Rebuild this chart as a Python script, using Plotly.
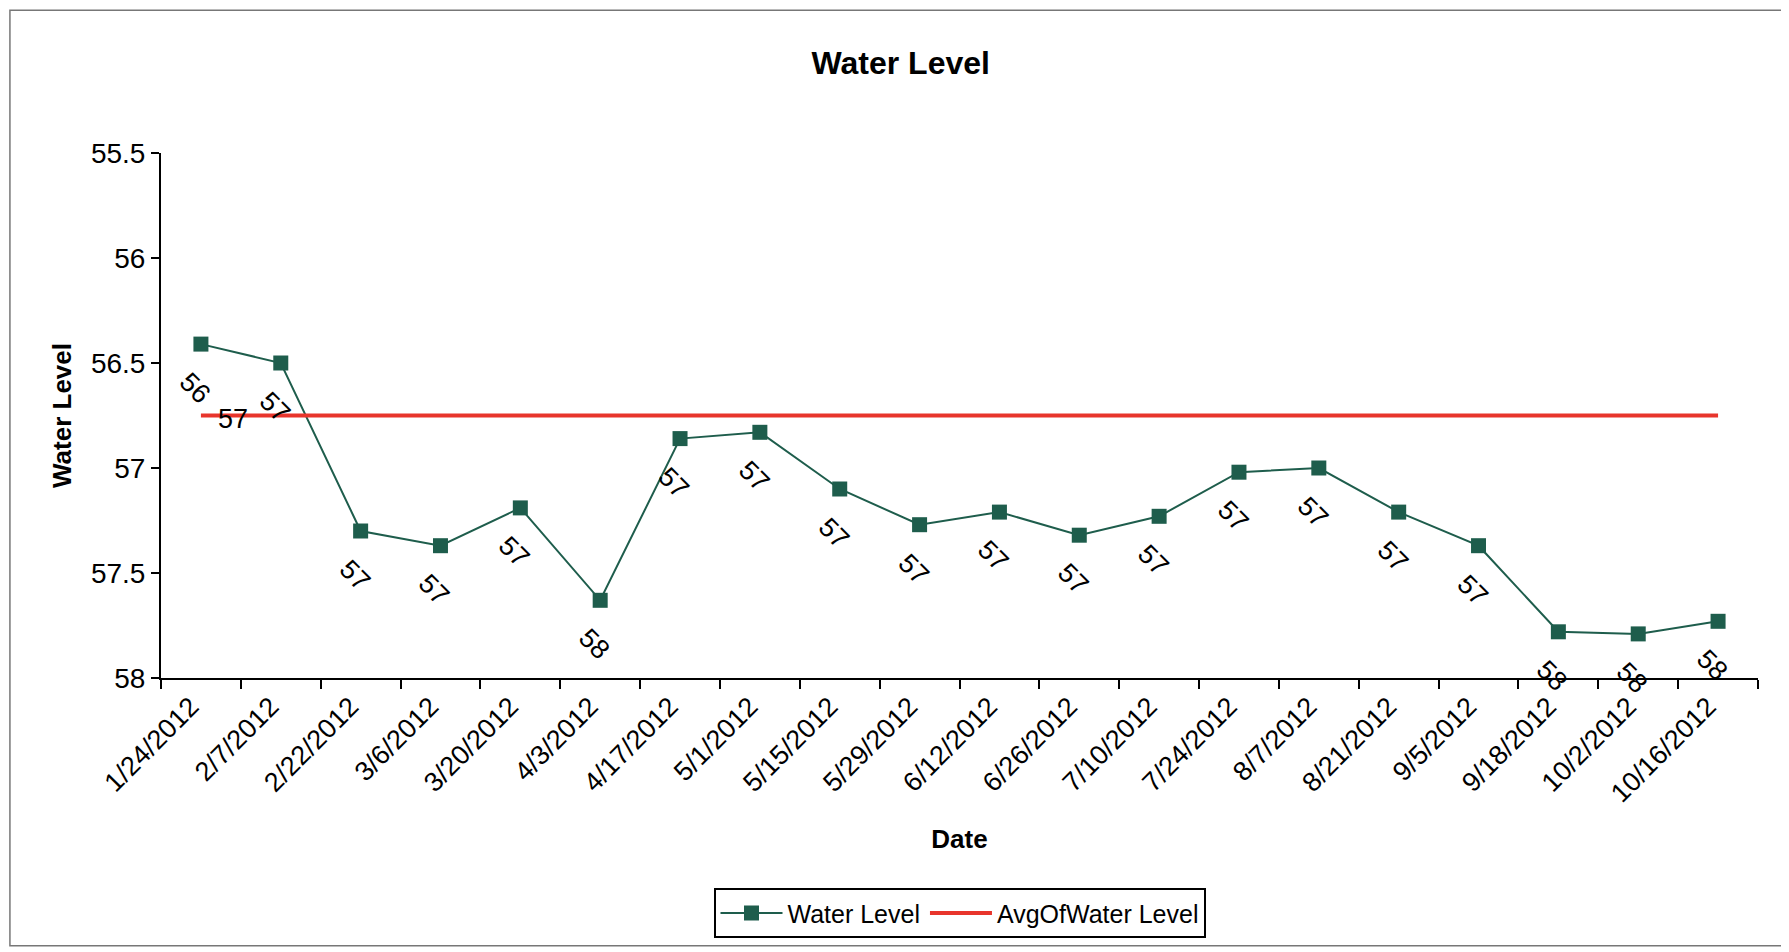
import math
import plotly.graph_objects as go

# ── Data ───────────────────────────────────────────────────────────────────────
DATES = [
    "1/24/2012", "2/7/2012", "2/22/2012", "3/6/2012", "3/20/2012",
    "4/3/2012", "4/17/2012", "5/1/2012", "5/15/2012", "5/29/2012",
    "6/12/2012", "6/26/2012", "7/10/2012", "7/24/2012", "8/7/2012",
    "8/21/2012", "9/5/2012", "9/18/2012", "10/2/2012", "10/16/2012",
]
WATER_LEVEL = [
    56.41, 56.50, 57.30, 57.37, 57.19, 57.63, 56.86, 56.83, 57.10, 57.27,
    57.21, 57.32, 57.23, 57.02, 57.00, 57.21, 57.37, 57.78, 57.79, 57.73,
]
AVG_LEVEL = [56.75] * len(DATES)
Y_TICKS = [55.5, 56, 56.5, 57, 57.5, 58]

# ── Styling ────────────────────────────────────────────────────────────────────
FONT = "Liberation Sans, Arial, sans-serif"
GREEN = "#1E5D4C"
RED = "#E8352C"


def xl_round(v):
    # Excel-style rounding (half up) for the data labels
    return str(int(math.floor(v + 0.5)))


fig = go.Figure()
fig.add_trace(go.Scatter(
    x=DATES, y=WATER_LEVEL, name="Water Level", mode="lines+markers",
    line=dict(color=GREEN, width=2),
    marker=dict(symbol="square", size=15, color=GREEN),
))
fig.add_trace(go.Scatter(
    x=DATES, y=AVG_LEVEL, name="AvgOfWater Level", mode="lines",
    line=dict(color=RED, width=4),
))

# rotated value labels under each point
for d, v in zip(DATES, WATER_LEVEL):
    fig.add_annotation(
        x=d, y=v, text=xl_round(v), showarrow=False, textangle=45,
        xshift=-6, yshift=-44, font=dict(family=FONT, size=27, color="black"),
    )
# label for the average series (first point only)
fig.add_annotation(
    x=DATES[0], y=AVG_LEVEL[0], text=xl_round(AVG_LEVEL[0]), showarrow=False,
    xshift=32, yshift=-3, font=dict(family=FONT, size=27, color="black"),
)

# outer chart border
fig.add_shape(
    type="rect", xref="paper", yref="paper",
    x0=-0.0946, x1=1.016, y0=-0.510, y1=1.272,
    line=dict(color="#777777", width=1.5), fillcolor="rgba(0,0,0,0)",
)

fig.update_layout(
    width=1789, height=952,
    paper_bgcolor="white", plot_bgcolor="white",
    font=dict(family=FONT, color="black", size=24),
    margin=dict(l=153, r=39, t=145, b=282),
    title=dict(
        text="<b>Water Level</b>", x=0.499, xanchor="center",
        y=0.942, yanchor="middle", font=dict(family=FONT, size=32, color="black"),
    ),
    showlegend=True,
    legend=dict(
        orientation="h", x=0.5, xanchor="center", y=-0.448, yanchor="middle",
        bordercolor="black", borderwidth=2, bgcolor="white",
        font=dict(family=FONT, size=25, color="black"),
        itemwidth=62,
    ),
    xaxis=dict(
        type="category", range=[-0.5, len(DATES) - 0.5],
        tickson="boundaries", ticks="outside", ticklen=9, tickwidth=2,
        tickcolor="black", showline=True, linecolor="black", linewidth=2,
        showgrid=False, zeroline=False, tickangle=-45, ticklabelshift=-10,
        tickfont=dict(family=FONT, size=27, color="black"),
        title=dict(text="<b>Date</b>", standoff=23,
                   font=dict(family=FONT, size=26, color="black")),
        automargin=False,
    ),
    yaxis=dict(
        range=[58, 55.5], tickvals=Y_TICKS, ticktext=[f"{t:g}" for t in Y_TICKS],
        ticks="outside", ticklen=8, tickwidth=2, tickcolor="black",
        showline=True, linecolor="black", linewidth=2,
        showgrid=False, zeroline=False,
        tickfont=dict(family=FONT, size=28, color="black"),
        title=dict(text="<b>Water Level</b>", standoff=12,
                   font=dict(family=FONT, size=26, color="black")),
        automargin=False,
    ),
)

fig.write_html("out.html")
